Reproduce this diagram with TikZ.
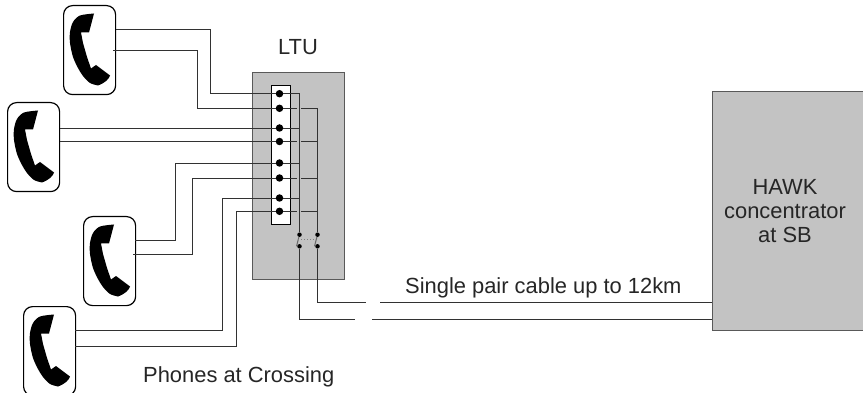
\documentclass[tikz,border=0pt]{standalone}
\usepackage{fontspec}
\setmainfont{Liberation Sans}
\definecolor{boxgrey}{RGB}{195,195,195}
\definecolor{wiregrey}{RGB}{50,50,50}
\tikzset{
  wire/.style={draw=wiregrey,line width=0.9pt},
  phonebox/.style={draw=black,line width=1.2pt,rounded corners=9pt,fill=white,minimum width=52pt,minimum height=89pt,inner sep=0pt,anchor=north west},
  unitbox/.style={draw=black!65,fill=boxgrey,line width=1.1pt,inner sep=0pt,anchor=north west},
  term/.style={circle,fill=black,inner sep=0pt,minimum size=7.5pt},
  swdot/.style={circle,fill=black,inner sep=0pt,minimum size=4.5pt},
  lbl/.style={font=\fontsize{21.9}{24}\selectfont,inner sep=0pt,align=center,text=black!85}
}
\newcommand{\handset}[1]{%
  \fill[black,shift={(#1.north west)}] (31,8.5) -- (26,27.5) -- (18,27.5)
    -- (20,38) -- (24,52) -- (28,63.5) -- (33,60) -- (47,70.5)
    .. controls (46,74) and (42,78) .. (35,80.5)
    -- plot[smooth] coordinates {(35,80.5) (27,78) (20,71) (15,63) (10,52) (7,38) (7,27) (10,17) (17,10.5) (31,8.5)} -- cycle;}
\begin{document}
\begin{tikzpicture}[x=1pt,y=-1pt]
  \useasboundingbox (0,0) rectangle (863,393);
  % phones
  \node[phonebox] (ph1) at (63,5) {};
  \node[phonebox] (ph2) at (7,102) {};
  \node[phonebox] (ph3) at (83,216) {};
  \node[phonebox] (ph4) at (23,306) {};
  \foreach \p in {ph1,ph2,ph3,ph4} {\handset{\p}}
  % boxes
  \node[unitbox,minimum width=92pt,minimum height=207pt] (ltu) at (252,72) {};
  \node[unitbox,minimum width=160pt,minimum height=239pt] (hawk) at (712,91) {};
  \node[draw=black,fill=white,line width=0.9pt,minimum width=19pt,minimum height=139pt,inner sep=0pt,anchor=north west] (strip) at (271,85) {};
  % terminals
  \foreach \n/\y in {1/93.7,2/108.3,3/128,4/141.5,5/163,6/178,7/198,8/211.3}
    \node[term] (t\n) at (279.5,\y) {};
  % switch
  \node[swdot] (sa) at (299.5,234.7) {};
  \node[swdot] (sb) at (317.5,234.7) {};
  \node[swdot] (sc) at (299.5,246.3) {};
  \node[swdot] (sd) at (317.5,246.3) {};
  \draw[black!60,line width=1pt] (sa) -- (296.5,246.3) (sb) -- (314.5,246.3);
  \draw[black!50,dotted,line width=1pt] (298,240) -- (315,240);
  % wire ends at the phones
  \coordinate (ph1a) at (116,29);
  \coordinate (ph1b) at (113,50);
  \coordinate (ph3a) at (135,240);
  \coordinate (ph3b) at (133,254);
  \coordinate (ph4a) at (75,330);
  \coordinate (ph4b) at (75,346);
  % phone wires
  \path[wire]
    (ph1a) -| (210,93.7) -- (t1)
    (ph1b) -| (197,108.3) -- (t2)
    (ph2.east|-t3) -- (t3)
    (ph2.east|-t4) -- (t4)
    (ph3a) -| (175,163) -- (t5)
    (ph3b) -| (192,178) -- (t6)
    (ph4a) -| (222,198) -- (t7)
    (ph4b) -| (236,211.3) -- (t8);
  % wires in the unit
  \path[wire]
    (t1) -| (sa) (t3) -| (sa) (t5) -| (sa) (t7) -| (sa)
    (t2) -- (297,108.3) (301,108.3) -| (sb)
    (t4) -- (297,141.5) (301,141.5) -- (317.5,141.5)
    (t6) -- (297,178) (301,178) -- (317.5,178)
    (t8) -- (297,211.3) (301,211.3) -- (317.5,211.3);
  % line to concentrator
  \coordinate (gapa) at (366,302.3);
  \coordinate (gapb) at (380,302.3);
  \coordinate (gapc) at (355,319.3);
  \coordinate (gapd) at (372,319.3);
  \path[wire]
    (sd) |- (gapa) (gapb) -- (hawk.west|-gapb)
    (sc) |- (gapc) (gapd) -- (hawk.west|-gapd);
  % labels
  \node[lbl] (ltulabel) at (298,47) {LTU};
  \node[lbl,anchor=west] (cablelabel) at (405,288) {Single pair cable up to 12km};
  \node[lbl,anchor=west] (phoneslabel) at (143,376.5) {Phones at Crossing};
  \node[lbl] (hawklabel) at (785,211) {HAWK\\concentrator\\at SB};
\end{tikzpicture}
\end{document}
